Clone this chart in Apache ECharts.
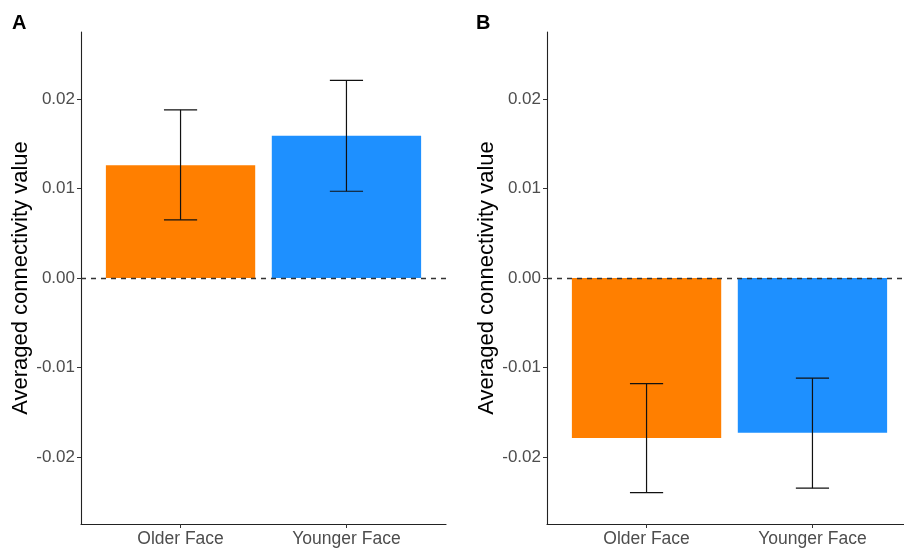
<!DOCTYPE html>
<html>
<head>
<meta charset="utf-8">
<script src="https://cdn.jsdelivr.net/npm/echarts@6/dist/echarts.min.js"></script>
<style>
html,body{margin:0;padding:0;background:#fff;overflow:hidden;}
#chart{width:904px;height:548px;}
</style>
</head>
<body>
<div id="chart"></div>
<script>
// ---- data ----
var categories = ['Older Face', 'Younger Face'];
var barColors = ['#FF7F00', '#1E90FF'];
var yTicks = [-0.02, -0.01, 0.00, 0.01, 0.02];
var panelLabels = ['A', 'B'];
var meanA = [0.0126, 0.0159];
var lowerA = [0.0065, 0.0097];
var upperA = [0.0188, 0.0221];
var meanB = [-0.0179, -0.0173];
var lowerB = [-0.0240, -0.0235];
var upperB = [-0.0118, -0.0112];
var yTitle = 'Averaged connectivity value';

var FONT = 'Liberation Sans, Arial, sans-serif';
var chart = echarts.init(document.getElementById('chart'), null, {renderer: 'canvas'});

function xAxisDef(idx) {
  return {
    type: 'value', gridIndex: idx, min: 0.4, max: 2.6,
    splitLine: {show: false},
    axisLine: {show: true, onZero: false, lineStyle: {color: '#222', width: 1.1}},
    axisTick: {show: true, length: 4, customValues: [1, 2], lineStyle: {color: '#333'}},
    axisLabel: {
      customValues: [1, 2], color: '#4d4d4d', fontSize: 17.5, fontFamily: FONT, margin: 6,
      formatter: function (v) { return categories[Math.round(v) - 1] || ''; }
    }
  };
}
function yAxisDef(idx) {
  return {
    type: 'value', gridIndex: idx, min: -0.0275, max: 0.0275,
    name: yTitle, nameLocation: 'middle', nameGap: 46, nameRotate: 90,
    nameTextStyle: {color: '#000', fontSize: 22, fontFamily: FONT},
    splitLine: {show: false},
    axisLine: {show: true, onZero: false, lineStyle: {color: '#222', width: 1.1}},
    axisTick: {show: true, length: 4, customValues: yTicks, lineStyle: {color: '#333'}},
    axisLabel: {
      customValues: yTicks, color: '#4d4d4d', fontSize: 17, fontFamily: FONT, margin: 6,
      formatter: function (v) { return (Math.abs(v) < 1e-9 ? 0 : v).toFixed(2); }
    }
  };
}

function barData(means) {
  return means.map(function (m, i) { return [i + 1, m, i]; });
}
function errData(means, lo, hi) {
  return means.map(function (m, i) { return [i + 1, lo[i], hi[i]]; });
}

function barSeries(idx, means) {
  return {
    type: 'custom', xAxisIndex: idx, yAxisIndex: idx, z: 2,
    data: barData(means),
    renderItem: function (params, api) {
      var x = api.value(0), v = api.value(1), ci = api.value(2);
      var p1 = api.coord([x - 0.45, v]);
      var p2 = api.coord([x + 0.45, 0]);
      return {
        type: 'rect',
        shape: {x: p1[0], y: Math.min(p1[1], p2[1]), width: p2[0] - p1[0], height: Math.abs(p2[1] - p1[1])},
        style: {fill: barColors[ci]}
      };
    },
    markLine: {
      silent: true, symbol: ['none', 'none'], z: 5,
      label: {show: false},
      lineStyle: {type: [5, 5], color: '#333', width: 1.3},
      data: [{yAxis: 0}]
    }
  };
}
function errSeries(idx, means, lo, hi) {
  return {
    type: 'custom', xAxisIndex: idx, yAxisIndex: idx, z: 6,
    data: errData(means, lo, hi),
    renderItem: function (params, api) {
      var x = api.value(0);
      var top = api.coord([x, api.value(2)]);
      var bot = api.coord([x, api.value(1)]);
      var hw = api.size([0.1, 0])[0];
      var st = {stroke: '#111', lineWidth: 1.2};
      return {
        type: 'group',
        children: [
          {type: 'line', shape: {x1: top[0], y1: top[1], x2: bot[0], y2: bot[1]}, style: st},
          {type: 'line', shape: {x1: top[0] - hw, y1: top[1], x2: top[0] + hw, y2: top[1]}, style: st},
          {type: 'line', shape: {x1: bot[0] - hw, y1: bot[1], x2: bot[0] + hw, y2: bot[1]}, style: st}
        ]
      };
    }
  };
}

var option = {
  backgroundColor: '#fff',
  animation: false,
  grid: [
    {left: 81, top: 32, width: 365, height: 492, outerBoundsMode: 'none', containLabel: false},
    {left: 547, top: 32, width: 365, height: 492, outerBoundsMode: 'none', containLabel: false}
  ],
  xAxis: [xAxisDef(0), xAxisDef(1)],
  yAxis: [yAxisDef(0), yAxisDef(1)],
  graphic: [
    {type: 'text', left: 12, top: 13, style: {text: panelLabels[0], font: 'bold 20px ' + FONT, fill: '#000'}},
    {type: 'text', left: 476, top: 13, style: {text: panelLabels[1], font: 'bold 20px ' + FONT, fill: '#000'}}
  ],
  series: [
    barSeries(0, meanA), errSeries(0, meanA, lowerA, upperA),
    barSeries(1, meanB), errSeries(1, meanB, lowerB, upperB)
  ]
};
chart.setOption(option);
</script>
</body>
</html>
